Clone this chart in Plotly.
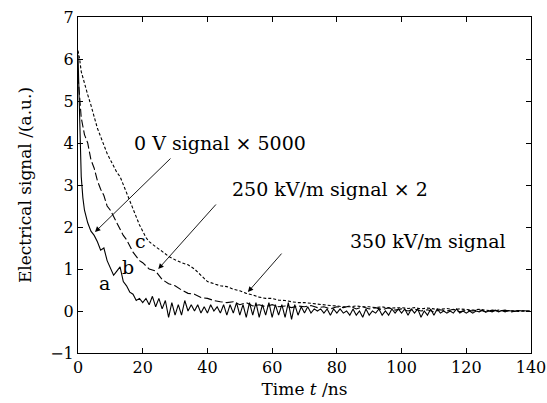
import plotly.graph_objects as go

# curve a: 0 V signal x5000 (solid)
t_a = [0, 0.3, 0.6, 1, 1.5, 2, 3, 4, 5] + list(range(6, 141))
sig_a = [6.1, 5.0, 4.0, 3.2, 2.7, 2.4, 2.1, 1.9, 1.8,
         1.65, 1.45, 1.5, 1.2, 1.0, 0.85, 0.95, 1.05, 0.7, 0.6,
         0.45, 0.4, 0.25, 0.3, 0.2, 0.3, 0.15, 0.35, 0.1, 0.3,
         0.05, 0.25, -0.15, 0.2, -0.1, 0.15, -0.1, 0.25, 0.0, 0.15,
         0.0, 0.15, -0.05, 0.1, -0.05, 0.15, 0.0, 0.1, -0.05, 0.15,
         -0.1, 0.15, -0.05, 0.2, -0.1, 0.15, -0.15, 0.2, -0.1, 0.2,
         -0.15, 0.15, -0.1, 0.2, -0.15, 0.15, -0.1, 0.15, -0.15, 0.2,
         -0.2, 0.15, -0.1, 0.1, -0.05, 0.1, -0.05, 0.05, 0.0, 0.05,
         -0.05, 0.05, -0.1, 0.05, -0.05, 0.05, -0.05, 0.0, -0.1, 0.05,
         -0.1, 0.0, -0.15, 0.05, -0.1, 0.0, -0.05, 0.05, -0.1, 0.0,
         -0.1, 0.05, -0.05, 0.05, -0.05, 0.05, -0.1, 0.05, -0.05, 0.05,
         -0.15, 0.0, -0.1, 0.05, -0.1, 0.05, -0.05, 0.0, -0.05, 0.0,
         -0.05, 0.05, -0.05, 0.0, -0.05, 0.0, -0.05, 0.0, -0.02, 0.02,
         -0.03, 0.0, -0.02, 0.02, -0.02, 0.01, -0.02, 0.01, 0.0, -0.01,
         0.01, 0.0, 0.0]

# curve b: 250 kV/m signal x2 (long dash)
t_b = [0, 0.5, 1, 2, 3, 4, 5, 6, 7, 8, 9, 10, 11, 12, 13, 14, 15, 16, 17, 18, 19, 20,
       22, 24, 26, 28, 30, 32, 34, 36, 38, 40, 42, 44, 46, 48, 50, 52, 54, 56, 58, 60,
       62, 64, 66, 68, 70, 72, 74, 76, 78, 80, 82, 84, 86, 88, 90, 92, 94, 96, 98, 100,
       102, 104, 106, 108, 110, 112, 114, 116, 118, 120, 122, 124, 126, 128, 130, 132,
       134, 136, 138, 140]
sig_b = [5.6, 5.0, 4.6, 4.2, 4.0, 3.6, 3.4, 3.1, 2.9, 2.75, 2.5, 2.4, 2.25, 2.1, 1.95,
         1.8, 1.7, 1.55, 1.4, 1.3, 1.2, 1.15,
         1.0, 0.95, 0.75, 0.65, 0.6, 0.5, 0.42, 0.4, 0.32, 0.3, 0.25, 0.22, 0.2, 0.22,
         0.15, 0.2, 0.12, 0.15, 0.1, 0.15,
         0.1, 0.12, 0.08, 0.12, 0.1, 0.13, 0.08, 0.1, 0.05, 0.1, 0.08, 0.12, 0.05, 0.1,
         0.05, 0.08, 0.03, 0.08, 0.02, 0.05,
         0.0, 0.05, 0.0, 0.03, -0.02, 0.03, 0.0, 0.04, -0.02, 0.02, 0.0, 0.03, -0.02, 0.02,
         0.0, 0.02, -0.02, 0.01, 0.0, 0.0]

# curve c: 350 kV/m signal (short dash)
t_c = [0, 0.5, 1, 2, 3, 4, 5, 6, 7, 8, 9, 10, 11, 12, 13, 14, 15, 16, 17, 18, 19, 20,
       21, 22, 23, 24, 26, 28, 30, 32, 34, 36, 38, 40, 42, 44, 46, 48, 50, 52, 54, 56,
       58, 60, 62, 64, 66, 68, 70, 72, 74, 76, 78, 80, 82, 84, 86, 88, 90, 92, 94, 96,
       98, 100, 102, 104, 106, 108, 110, 112, 114, 116, 118, 120, 122, 124, 126, 128,
       130, 132, 134, 136, 138, 140]
sig_c = [6.2, 6.0, 5.7, 5.4, 5.15, 4.9, 4.6, 4.35, 4.15, 3.95, 3.75, 3.6, 3.45, 3.3, 3.2,
         3.0, 2.8, 2.65, 2.45, 2.25, 2.05, 1.9,
         1.75, 1.65, 1.6, 1.53, 1.42, 1.3, 1.22, 1.15, 1.1, 1.0, 0.85, 0.7, 0.65, 0.6,
         0.58, 0.52, 0.48, 0.42, 0.38, 0.33,
         0.3, 0.3, 0.26, 0.25, 0.22, 0.2, 0.2, 0.18, 0.17, 0.15, 0.13, 0.12, 0.1, 0.1,
         0.12, 0.1, 0.1, 0.08, 0.1, 0.07,
         0.08, 0.08, 0.06, 0.08, 0.05, 0.07, 0.05, 0.04, 0.06, 0.03, 0.05, 0.03, 0.02, 0.04,
         0.02, 0.0, 0.02, 0.0, 0.01, -0.01, 0.0, 0.0]

FONT = "DejaVu Serif"

fig = go.Figure()
fig.add_trace(go.Scatter(x=t_a, y=sig_a, mode="lines", line=dict(color="black", width=1.1)))
fig.add_trace(go.Scatter(x=t_b, y=sig_b, mode="lines",
                         line=dict(color="black", width=1.1, dash="8px,3px")))
fig.add_trace(go.Scatter(x=t_c, y=sig_c, mode="lines",
                         line=dict(color="black", width=1.1, dash="3px,2px")))

# arrows (head at the curve, tail toward the label)
arrows = [(5.25, 1.88, 77, -75), (24.8, 1.0, 59, -66), (52.5, 0.45, 35, -40)]
for x, y, ax, ay in arrows:
    fig.add_annotation(x=x, y=y, ax=ax, ay=ay, text="", showarrow=True,
                       arrowhead=2, arrowsize=1.2, arrowwidth=0.9, arrowcolor="black")

labels = [(43.9, 4.0, "0 V signal × 5000"), (77.9, 2.9, "250 kV/m signal × 2"),
          (108.2, 1.67, "350 kV/m signal"),
          (8.3, 0.67, "a"), (15.5, 1.05, "b"), (19.2, 1.67, "c")]
for x, y, s in labels:
    fig.add_annotation(x=x, y=y, text=s, showarrow=False,
                       font=dict(family=FONT, size=19, color="black"))

axis = dict(showline=True, linecolor="black", linewidth=1, mirror="ticks",
            ticks="inside", ticklen=5, tickcolor="black", showgrid=False, zeroline=False,
            automargin=False, tickfont=dict(family=FONT, size=16, color="black"))
fig.update_xaxes(range=[0, 140], dtick=20, title=dict(text="Time <i>t</i> /ns", standoff=6,
                 font=dict(family=FONT, size=17, color="black")), **axis)
fig.update_yaxes(range=[-1, 7], dtick=1, title=dict(text="Electrical signal /(a.u.)", standoff=14,
                 font=dict(family=FONT, size=17, color="black")), **axis)

fig.update_layout(width=547, height=403, showlegend=False,
                  margin=dict(l=78, r=16, t=17, b=50),
                  plot_bgcolor="white", paper_bgcolor="white")
# drop the page's default body margin so the figure sits at the top-left corner
fig.write_html("out.html", config={"displayModeBar": False},
               post_script="document.body.style.margin='0';")
